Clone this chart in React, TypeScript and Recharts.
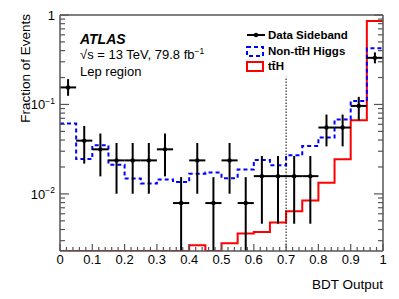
import React from "react";
import { ComposedChart, Line, Scatter, XAxis, YAxis, ErrorBar, ReferenceLine } from "recharts";

const Y_MIN = 0.0023;
const Y_MAX = 1;
const BIN_WIDTH = 0.05;

// lower bin edges (20 bins of 0.05)
const binEdges = [0, 0.05, 0.1, 0.15, 0.2, 0.25, 0.3, 0.35, 0.4, 0.45, 0.5, 0.55, 0.6, 0.65, 0.7, 0.75, 0.8, 0.85, 0.9, 0.95];

// data sideband: value, upper and lower end of the error bar (0 = goes below axis)
const dataValues = [0.155, 0.0394, 0.0315, 0.0237, 0.0237, 0.0237, 0.0315, 0.0079, 0.0237, 0.0079, 0.0237, 0.0079, 0.0158, 0.0158, 0.0158, 0.0158, 0.0552, 0.0552, 0.0963, 0.332];
const dataHigh = [0.192, 0.0575, 0.0473, 0.0371, 0.0371, 0.0371, 0.0473, 0.0154, 0.0371, 0.0154, 0.0371, 0.0154, 0.0265, 0.0265, 0.0265, 0.0265, 0.0771, 0.0771, 0.1216, 0.382];
const dataLow = [0.125, 0.0218, 0.0157, 0.01005, 0.01005, 0.01005, 0.0157, 0, 0.01005, 0, 0.01005, 0, 0.00464, 0.00464, 0.00464, 0.00464, 0.034, 0.034, 0.0666, 0.288];

const nonTtHValues = [0.0612, 0.0245, 0.0349, 0.0212, 0.0149, 0.0131, 0.0145, 0.01355, 0.0168, 0.0173, 0.015, 0.0187, 0.024, 0.0209, 0.027, 0.0343, 0.0426, 0.0678, 0.109, 0.424];
const ttHValues = [0, 0, 0, 0, 0, 0, 0, 0, 0.00266, 0, 0.00281, 0.0036, 0.00375, 0.0048, 0.00641, 0.00845, 0.0133, 0.0244, 0.0666, 0.857];

const xMajorTicks = [0, 0.1, 0.2, 0.3, 0.4, 0.5, 0.6, 0.7, 0.8, 0.9, 1];
const xMajorLabels = ["0", "0.1", "0.2", "0.3", "0.4", "0.5", "0.6", "0.7", "0.8", "0.9", "1"];
const yTicks = [0.003, 0.004, 0.005, 0.006, 0.007, 0.008, 0.009, 0.01, 0.02, 0.03, 0.04, 0.05, 0.06, 0.07, 0.08, 0.09, 0.1, 0.2, 0.3, 0.4, 0.5, 0.6, 0.7, 0.8, 0.9, 1];
const yMajorTicks = [0.01, 0.1, 1];
const yMajorLabels = [["10", "\u22122"], ["10", "\u22121"], ["1", ""]];

const cutValue = 0.7;
const cutTop = 0.204;

const FONT = "'Liberation Sans', Arial, Helvetica, sans-serif";
const AXIS = "#555";

const xTicks: number[] = [];
for (let i = 0; i <= 50; i++) xTicks.push(Math.round(i * 2) / 100);

const stepData = (vals: number[]) =>
  [...binEdges, 1].map((x, i) => ({ x, y: Math.max(vals[Math.min(i, vals.length - 1)], Y_MIN) }));

const points = binEdges.map((e, i) => ({
  x: e + BIN_WIDTH / 2,
  y: dataValues[i],
  ex: BIN_WIDTH / 2,
  ey: [dataValues[i] - Math.max(dataLow[i], Y_MIN), dataHigh[i] - dataValues[i]],
}));

const isXMajor = (v: number) => xMajorTicks.some((t) => Math.abs(t - v) < 1e-6);

const XTick = (props: any, side: "bottom" | "top") => {
  const { x, y, payload } = props;
  const major = isXMajor(payload.value);
  const len = major ? 7 : 4;
  const dir = side === "bottom" ? -1 : 1;
  const idx = xMajorTicks.findIndex((t) => Math.abs(t - payload.value) < 1e-6);
  return (
    <g>
      <line x1={x} x2={x} y1={y} y2={y + dir * len} stroke={AXIS} strokeWidth={1.2} />
      {side === "bottom" && major && (
        <text x={x} y={y + 13} textAnchor="middle" fontSize={13} fontFamily={FONT} fill="#000">
          {xMajorLabels[idx]}
        </text>
      )}
    </g>
  );
};

const YTick = (props: any, side: "left" | "right") => {
  const { x, y, payload } = props;
  const idx = yMajorTicks.findIndex((t) => Math.abs(t - payload.value) < 1e-9);
  const major = idx >= 0;
  const len = major ? 9 : 5;
  const dir = side === "left" ? 1 : -1;
  return (
    <g>
      <line x1={x} x2={x + dir * len} y1={y} y2={y} stroke={AXIS} strokeWidth={1.2} />
      {side === "left" && major && (
        <text x={x - 5} y={y + 5} textAnchor="end" fontSize={13} fontFamily={FONT} fill="#000">
          {yMajorLabels[idx][0]}
          {yMajorLabels[idx][1] && (
            <tspan dy={-5.5} fontSize={8.5}>
              {yMajorLabels[idx][1]}
            </tspan>
          )}
        </text>
      )}
    </g>
  );
};

const Dot = (props: any) => <circle cx={props.cx} cy={props.cy} r={2.2} fill="#000" />;

export default function App() {
  const axisLine = { stroke: AXIS, strokeWidth: 1.5 };
  return (
    <div style={{ position: "absolute", left: 0, top: 0, width: 399, height: 299, background: "#fff" }}>
      <ComposedChart width={399} height={299} margin={{ top: 0, right: 0, bottom: 0, left: 0 }}>
        <XAxis xAxisId={0} type="number" dataKey="x" domain={[0, 1]} ticks={xTicks} interval={0} allowDataOverflow
          tick={(p: any) => XTick(p, "bottom")} tickLine={false} tickSize={0} tickMargin={0} axisLine={axisLine} height={48} />
        <XAxis xAxisId="top" orientation="top" type="number" domain={[0, 1]} ticks={xTicks} interval={0} allowDataOverflow
          tick={(p: any) => XTick(p, "top")} tickLine={false} tickSize={0} tickMargin={0} axisLine={axisLine} height={15} />
        <YAxis yAxisId={0} type="number" scale="log" domain={[Y_MIN, Y_MAX]} ticks={yTicks} interval={0} allowDataOverflow
          tick={(p: any) => YTick(p, "left")} tickLine={false} tickSize={0} tickMargin={0} axisLine={axisLine} width={60} />
        <YAxis yAxisId="right" orientation="right" type="number" scale="log" domain={[Y_MIN, Y_MAX]} ticks={yTicks} interval={0} allowDataOverflow
          tick={(p: any) => YTick(p, "right")} tickLine={false} tickSize={0} tickMargin={0} axisLine={axisLine} width={16} />

        <Line data={stepData(ttHValues)} dataKey="y" type="stepAfter" stroke="#ff0000" strokeWidth={2} dot={false} isAnimationActive={false} />
        <Line data={stepData(nonTtHValues)} dataKey="y" type="stepAfter" stroke="#0000ff" strokeWidth={2} strokeDasharray="4 3" dot={false} isAnimationActive={false} />

        <ReferenceLine segment={[{ x: cutValue, y: Y_MIN }, { x: cutValue, y: cutTop }]} stroke="#000" strokeWidth={1} strokeDasharray="1.5 1.5" />

        <Scatter data={points} dataKey="y" fill="#000" shape={Dot} isAnimationActive={false}>
          <ErrorBar dataKey="ey" direction="y" width={0} stroke="#000" strokeWidth={2} />
          <ErrorBar dataKey="ex" direction="x" width={0} stroke="#000" strokeWidth={2} />
        </Scatter>
      </ComposedChart>

      <svg width={399} height={299} style={{ position: "absolute", left: 0, top: 0, pointerEvents: "none" }}>
        <text transform="translate(29.5,14) rotate(-90)" textAnchor="end" fontSize={13.5} fontFamily={FONT} fill="#000">
          Fraction of Events
        </text>
        <text x={383} y={289} textAnchor="end" fontSize={13.5} fontFamily={FONT} fill="#000">
          BDT Output
        </text>

        <text x={80} y={44} fontSize={14} fontWeight="bold" fontStyle="italic" fontFamily={FONT} fill="#000">ATLAS</text>
        <text x={80} y={59} fontSize={13} fontFamily={FONT} fill="#000">
          {"\u221As = 13 TeV, 79.8 fb"}
          <tspan dy={-5} fontSize={8.5}>{"\u22121"}</tspan>
        </text>
        <text x={80} y={76} fontSize={13} fontFamily={FONT} fill="#000">Lep region</text>

        <line x1={247} x2={265} y1={35} y2={35} stroke="#000" strokeWidth={2} />
        <circle cx={256} cy={35} r={2.2} fill="#000" />
        <rect x={247} y={47} width={16} height={9} fill="none" stroke="#0000ff" strokeWidth={2} strokeDasharray="4 3" />
        <rect x={247} y={62} width={16} height={9} fill="none" stroke="#ff0000" strokeWidth={2} />
        <g fontSize={11.5} fontWeight="bold" fontFamily={FONT} fill="#000">
          <text x={268} y={39}>Data Sideband</text>
          <text x={268} y={55}>{"Non-tt\u0304H Higgs"}</text>
          <text x={268} y={70}>{"tt\u0304H"}</text>
        </g>
      </svg>
    </div>
  );
}
